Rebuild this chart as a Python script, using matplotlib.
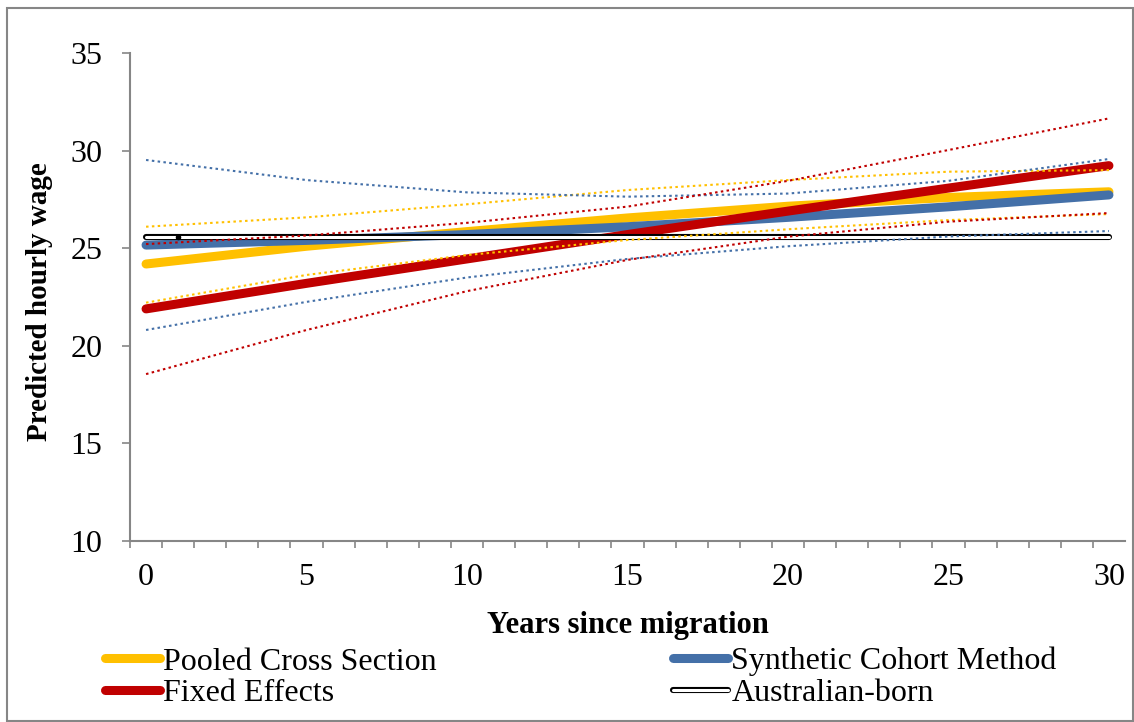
import matplotlib
matplotlib.use("Agg")
import matplotlib.pyplot as plt
import matplotlib.patheffects as pe
from matplotlib.patches import Rectangle

years = [0, 5, 10, 15, 20, 25, 30]

pooled = [24.19, 25.10, 25.85, 26.55, 27.15, 27.60, 27.89]
pooled_hi = [26.10, 26.58, 27.25, 27.98, 28.49, 28.92, 29.00]
pooled_lo = [22.21, 23.63, 24.65, 25.42, 25.97, 26.44, 26.75]

synthetic = [25.16, 25.40, 25.70, 26.10, 26.58, 27.12, 27.73]
synthetic_hi = [29.52, 28.49, 27.86, 27.64, 27.80, 28.45, 29.57]
synthetic_lo = [20.81, 22.25, 23.50, 24.45, 25.10, 25.60, 25.88]

fixed = [21.89, 23.20, 24.45, 25.70, 26.90, 28.08, 29.23]
fixed_hi = [25.21, 25.65, 26.30, 27.13, 28.45, 30.03, 31.65]
fixed_lo = [18.55, 20.81, 22.80, 24.40, 25.59, 26.36, 26.80]

aus_years = [0, 30]
aus_born = [25.57, 25.57]

yticks = [10, 15, 20, 25, 30, 35]
xticks = [0, 5, 10, 15, 20, 25, 30]

YELLOW = "#FFC000"
BLUE = "#4470A8"
RED = "#C00000"
GREY = "#868686"

plt.rcParams["font.family"] = ["Liberation Serif", "DejaVu Serif"]

fig = plt.figure(figsize=(11.34, 7.22), dpi=100)
ax = fig.add_axes([130 / 1134, 1 - 541 / 722, (1125 - 130) / 1134, (541 - 53) / 722])

ax.plot(years, pooled, color=YELLOW, lw=6.5, solid_capstyle="round", label="Pooled Cross Section", zorder=3)
ax.plot(years, synthetic, color=BLUE, lw=6.5, solid_capstyle="round", label="Synthetic Cohort Method", zorder=3)
ax.plot(years, fixed, color=RED, lw=6.5, solid_capstyle="round", label="Fixed Effects", zorder=3)
ax.plot(aus_years, aus_born, color="white", lw=2.2, solid_capstyle="round", label="Australian-born", zorder=4,
        path_effects=[pe.Stroke(linewidth=4.4, foreground="black"), pe.Normal()])
ax.plot([1], [aus_born[0]], marker="o", ms=3, color="black", zorder=4)

dot = (0, (1.2, 1.6))
for vals, c in [(pooled_hi, YELLOW), (pooled_lo, YELLOW), (synthetic_hi, BLUE),
                (synthetic_lo, BLUE), (fixed_hi, RED), (fixed_lo, RED)]:
    ax.plot(years, vals, color=c, lw=1.5, linestyle=dot, zorder=5)

ax.set_xlim(-0.5, 30.5)
ax.set_ylim(10, 35)
ax.set_yticks(yticks)
ax.set_xticks(xticks)
ax.set_xticks([i - 0.5 for i in range(31)], minor=True)
ax.tick_params(axis="x", which="major", length=0, pad=16, labelsize=23)
ax.tick_params(axis="x", which="minor", length=5, width=1.2, color=GREY, direction="out")
ax.tick_params(axis="y", which="major", length=6, width=1.2, color=GREY, direction="out", pad=14, labelsize=23)

for s in ["top", "right"]:
    ax.spines[s].set_visible(False)
for s in ["left", "bottom"]:
    ax.spines[s].set_color(GREY)
    ax.spines[s].set_linewidth(1.5)

ax.set_ylabel("Predicted hourly wage", fontsize=21, fontweight="bold", va="center", ha="center")
ax.yaxis.set_label_coords((40 - 130) / 995, 0.49)
ax.set_xlabel("Years since migration", fontsize=22, fontweight="bold", va="center", ha="center")
ax.xaxis.set_label_coords(0.5, -(626 - 541) / 488)

handles, labels = ax.get_legend_handles_labels()
leg = fig.legend([handles[i] for i in [0, 2, 1, 3]], [labels[i] for i in [0, 2, 1, 3]],
                 ncol=2, loc="upper left", bbox_to_anchor=(105 / 1134, 1 - 647 / 722),
                 frameon=False, fontsize=23, handlelength=1.72, handletextpad=0.1,
                 columnspacing=7.4, labelspacing=0.08, borderaxespad=0, borderpad=0)

fig.patches.append(Rectangle((7 / 1134, 1 / 722), (1133 - 7) / 1134, (721 - 8) / 722,
                             transform=fig.transFigure, fill=False, edgecolor=GREY, lw=1.5))

fig.savefig("out.png", dpi=100)
